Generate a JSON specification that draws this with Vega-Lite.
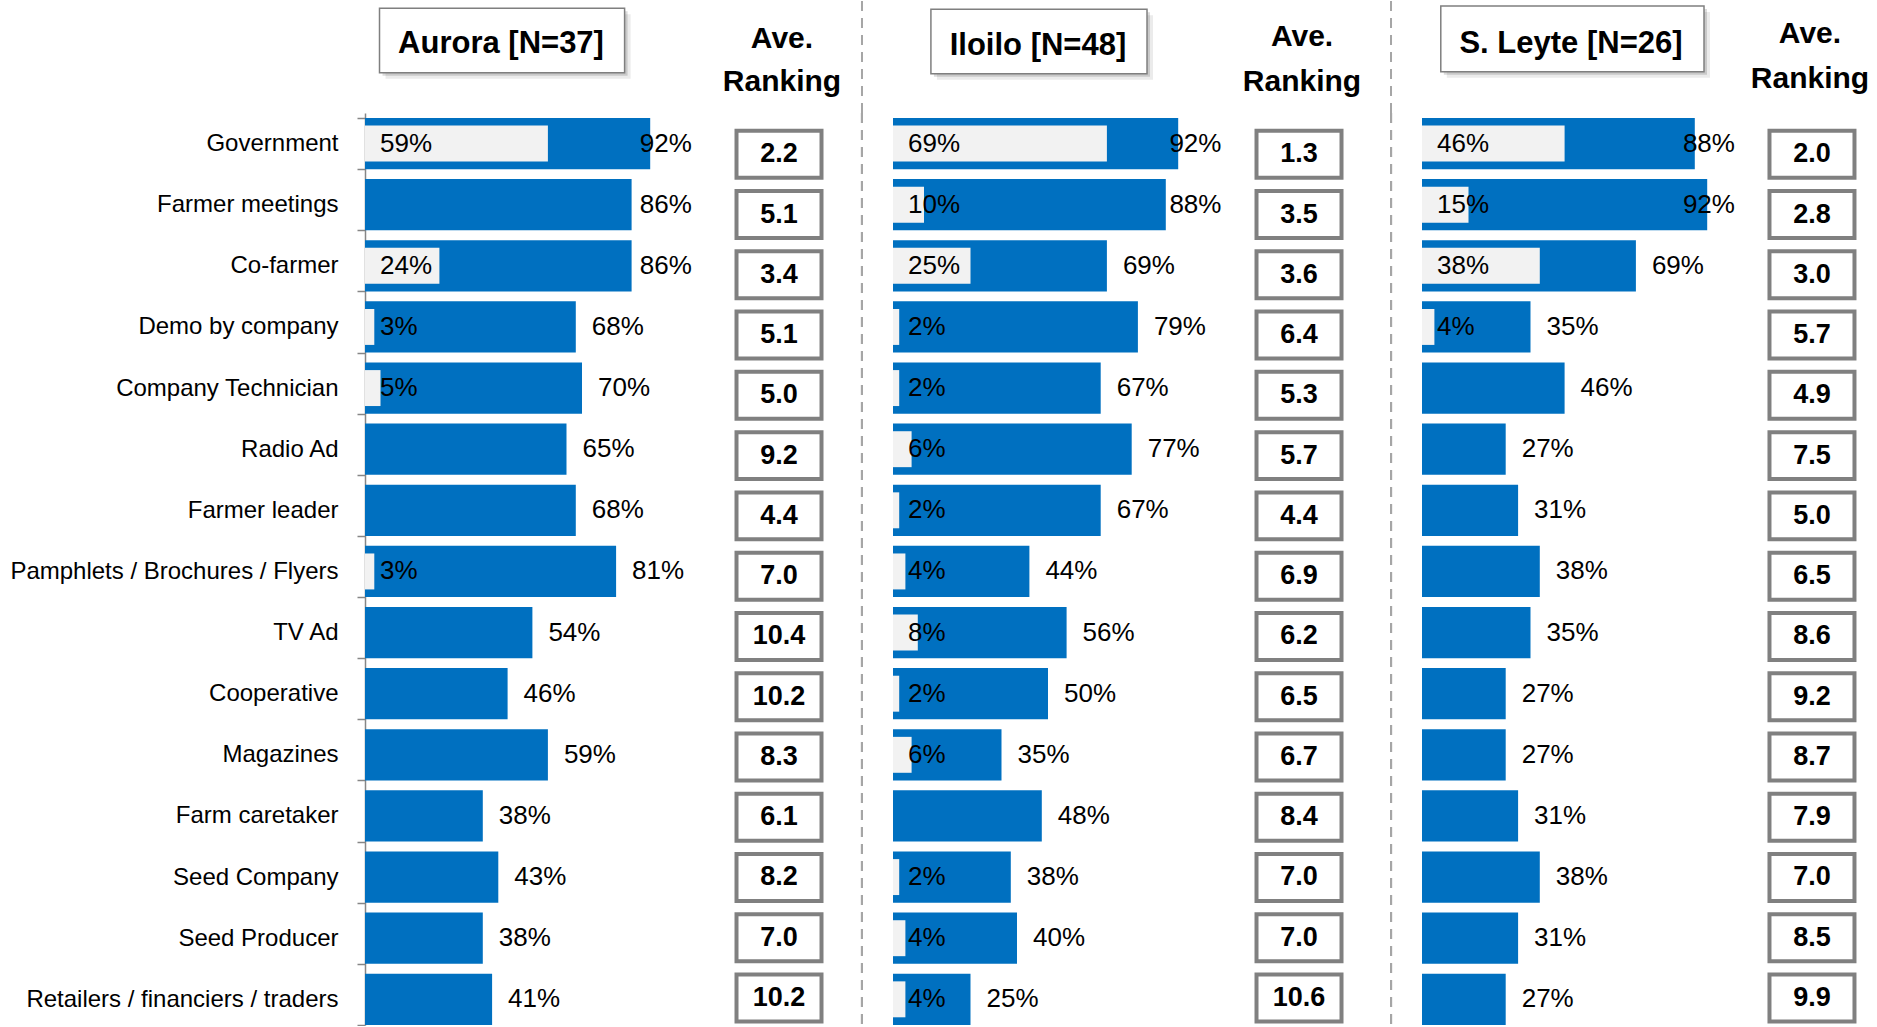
{
  "$schema": "https://vega.github.io/schema/vega-lite/v6.json",
  "padding": {"left": 9, "top": 0, "right": 0, "bottom": 0},
  "autosize": {"type": "pad"},
  "config": {
    "view": {"stroke": null},
    "text": {"font": "Liberation Sans, Arial, sans-serif", "color": "#000000"},
    "axis": {"labelFont": "Liberation Sans, Arial, sans-serif"}
  },
  "datasets": {
    "headers": [
      {"region": "Aurora", "title": "Aurora [N=37]"},
      {"region": "Iloilo", "title": "Iloilo [N=48]"},
      {"region": "S. Leyte", "title": "S. Leyte [N=26]"}
    ],
    "main": [
      {"region": "Aurora", "source": "Government", "total": 0.92, "first": 0.59, "rank": 2.2},
      {"region": "Aurora", "source": "Farmer meetings", "total": 0.86, "first": null, "rank": 5.1},
      {"region": "Aurora", "source": "Co-farmer", "total": 0.86, "first": 0.24, "rank": 3.4},
      {"region": "Aurora", "source": "Demo by company", "total": 0.68, "first": 0.03, "rank": 5.1},
      {"region": "Aurora", "source": "Company Technician", "total": 0.70, "first": 0.05, "rank": 5.0},
      {"region": "Aurora", "source": "Radio Ad", "total": 0.65, "first": null, "rank": 9.2},
      {"region": "Aurora", "source": "Farmer leader", "total": 0.68, "first": null, "rank": 4.4},
      {"region": "Aurora", "source": "Pamphlets / Brochures / Flyers", "total": 0.81, "first": 0.03, "rank": 7.0},
      {"region": "Aurora", "source": "TV Ad", "total": 0.54, "first": null, "rank": 10.4},
      {"region": "Aurora", "source": "Cooperative", "total": 0.46, "first": null, "rank": 10.2},
      {"region": "Aurora", "source": "Magazines", "total": 0.59, "first": null, "rank": 8.3},
      {"region": "Aurora", "source": "Farm caretaker", "total": 0.38, "first": null, "rank": 6.1},
      {"region": "Aurora", "source": "Seed Company", "total": 0.43, "first": null, "rank": 8.2},
      {"region": "Aurora", "source": "Seed Producer", "total": 0.38, "first": null, "rank": 7.0},
      {"region": "Aurora", "source": "Retailers / financiers / traders", "total": 0.41, "first": null, "rank": 10.2},
      {"region": "Iloilo", "source": "Government", "total": 0.92, "first": 0.69, "rank": 1.3},
      {"region": "Iloilo", "source": "Farmer meetings", "total": 0.88, "first": 0.10, "rank": 3.5},
      {"region": "Iloilo", "source": "Co-farmer", "total": 0.69, "first": 0.25, "rank": 3.6},
      {"region": "Iloilo", "source": "Demo by company", "total": 0.79, "first": 0.02, "rank": 6.4},
      {"region": "Iloilo", "source": "Company Technician", "total": 0.67, "first": 0.02, "rank": 5.3},
      {"region": "Iloilo", "source": "Radio Ad", "total": 0.77, "first": 0.06, "rank": 5.7},
      {"region": "Iloilo", "source": "Farmer leader", "total": 0.67, "first": 0.02, "rank": 4.4},
      {"region": "Iloilo", "source": "Pamphlets / Brochures / Flyers", "total": 0.44, "first": 0.04, "rank": 6.9},
      {"region": "Iloilo", "source": "TV Ad", "total": 0.56, "first": 0.08, "rank": 6.2},
      {"region": "Iloilo", "source": "Cooperative", "total": 0.50, "first": 0.02, "rank": 6.5},
      {"region": "Iloilo", "source": "Magazines", "total": 0.35, "first": 0.06, "rank": 6.7},
      {"region": "Iloilo", "source": "Farm caretaker", "total": 0.48, "first": null, "rank": 8.4},
      {"region": "Iloilo", "source": "Seed Company", "total": 0.38, "first": 0.02, "rank": 7.0},
      {"region": "Iloilo", "source": "Seed Producer", "total": 0.40, "first": 0.04, "rank": 7.0},
      {"region": "Iloilo", "source": "Retailers / financiers / traders", "total": 0.25, "first": 0.04, "rank": 10.6},
      {"region": "S. Leyte", "source": "Government", "total": 0.88, "first": 0.46, "rank": 2.0},
      {"region": "S. Leyte", "source": "Farmer meetings", "total": 0.92, "first": 0.15, "rank": 2.8},
      {"region": "S. Leyte", "source": "Co-farmer", "total": 0.69, "first": 0.38, "rank": 3.0},
      {"region": "S. Leyte", "source": "Demo by company", "total": 0.35, "first": 0.04, "rank": 5.7},
      {"region": "S. Leyte", "source": "Company Technician", "total": 0.46, "first": null, "rank": 4.9},
      {"region": "S. Leyte", "source": "Radio Ad", "total": 0.27, "first": null, "rank": 7.5},
      {"region": "S. Leyte", "source": "Farmer leader", "total": 0.31, "first": null, "rank": 5.0},
      {"region": "S. Leyte", "source": "Pamphlets / Brochures / Flyers", "total": 0.38, "first": null, "rank": 6.5},
      {"region": "S. Leyte", "source": "TV Ad", "total": 0.35, "first": null, "rank": 8.6},
      {"region": "S. Leyte", "source": "Cooperative", "total": 0.27, "first": null, "rank": 9.2},
      {"region": "S. Leyte", "source": "Magazines", "total": 0.27, "first": null, "rank": 8.7},
      {"region": "S. Leyte", "source": "Farm caretaker", "total": 0.31, "first": null, "rank": 7.9},
      {"region": "S. Leyte", "source": "Seed Company", "total": 0.38, "first": null, "rank": 7.0},
      {"region": "S. Leyte", "source": "Seed Producer", "total": 0.31, "first": null, "rank": 8.5},
      {"region": "S. Leyte", "source": "Retailers / financiers / traders", "total": 0.27, "first": null, "rank": 9.9}
    ]
  },
  "bounds": "flush",
  "columns": 3,
  "spacing": {"row": 0, "column": 0},
  "concat": [
    {
      "width": 528, "height": 112,
      "data": {"name": "headers"},
      "transform": [{"filter": "datum.region === 'Aurora'"}],
      "layer": [
        {"mark": {"type": "rect", "fill": "#000000", "opacity": 0.08},
         "encoding": {"x": {"datum": 0.0662, "type": "quantitative", "scale": {"domain": [0, 1.703226], "nice": false, "zero": false}, "axis": null}, "x2": {"datum": 0.8568},
                      "y": {"datum": 13.3, "type": "quantitative", "scale": {"domain": [0, 112], "reverse": true, "nice": false, "zero": false}, "axis": null}, "y2": {"datum": 77.7}}},
        {"mark": {"type": "rect", "fill": "#000000", "opacity": 0.14},
         "encoding": {"x": {"datum": 0.0565, "type": "quantitative"}, "x2": {"datum": 0.8471}, "y": {"datum": 10.3, "type": "quantitative"}, "y2": {"datum": 74.7}}},
        {"mark": {"type": "rect", "fill": "#ffffff", "stroke": "#7f7f7f", "strokeWidth": 1.5},
         "encoding": {"x": {"datum": 0.0468, "type": "quantitative"}, "x2": {"datum": 0.8374}, "y": {"datum": 7.3, "type": "quantitative"}, "y2": {"datum": 71.7}}},
        {"mark": {"type": "text", "fontWeight": "bold", "fontSize": 31, "align": "center", "baseline": "alphabetic"},
         "encoding": {"x": {"datum": 0.4387, "type": "quantitative"}, "y": {"datum": 52, "type": "quantitative"}, "text": {"field": "title"}}},
        {"mark": {"type": "text", "text": "Ave.", "fontWeight": "bold", "fontSize": 30, "align": "center", "baseline": "alphabetic"},
         "encoding": {"x": {"datum": 1.345, "type": "quantitative"}, "y": {"datum": 46.7, "type": "quantitative"}}},
        {"mark": {"type": "text", "text": "Ranking", "fontWeight": "bold", "fontSize": 30, "align": "center", "baseline": "alphabetic"},
         "encoding": {"x": {"datum": 1.345, "type": "quantitative"}, "y": {"datum": 90, "type": "quantitative"}}},
        {"mark": {"type": "rule", "color": "#A6A6A6", "strokeWidth": 2, "strokeDash": [10, 7]},
         "encoding": {"x": {"datum": 1.6032, "type": "quantitative"}}}
      ]
    },
    {
      "width": 529, "height": 112,
      "data": {"name": "headers"},
      "transform": [{"filter": "datum.region === 'Iloilo'"}],
      "layer": [
        {"mark": {"type": "rect", "fill": "#000000", "opacity": 0.08},
         "encoding": {"x": {"datum": 0.1417, "type": "quantitative", "scale": {"domain": [0, 1.706452], "nice": false, "zero": false}, "axis": null}, "x2": {"datum": 0.8388},
                      "y": {"datum": 14.3, "type": "quantitative", "scale": {"domain": [0, 112], "reverse": true, "nice": false, "zero": false}, "axis": null}, "y2": {"datum": 78.7}}},
        {"mark": {"type": "rect", "fill": "#000000", "opacity": 0.14},
         "encoding": {"x": {"datum": 0.1320, "type": "quantitative"}, "x2": {"datum": 0.8291}, "y": {"datum": 11.3, "type": "quantitative"}, "y2": {"datum": 75.7}}},
        {"mark": {"type": "rect", "fill": "#ffffff", "stroke": "#7f7f7f", "strokeWidth": 1.5},
         "encoding": {"x": {"datum": 0.1223, "type": "quantitative"}, "x2": {"datum": 0.8194}, "y": {"datum": 8.3, "type": "quantitative"}, "y2": {"datum": 72.7}}},
        {"mark": {"type": "text", "fontWeight": "bold", "fontSize": 31, "align": "center", "baseline": "alphabetic"},
         "encoding": {"x": {"datum": 0.4677, "type": "quantitative"}, "y": {"datum": 54, "type": "quantitative"}, "text": {"field": "title"}}},
        {"mark": {"type": "text", "text": "Ave.", "fontWeight": "bold", "fontSize": 30, "align": "center", "baseline": "alphabetic"},
         "encoding": {"x": {"datum": 1.3194, "type": "quantitative"}, "y": {"datum": 45, "type": "quantitative"}}},
        {"mark": {"type": "text", "text": "Ranking", "fontWeight": "bold", "fontSize": 30, "align": "center", "baseline": "alphabetic"},
         "encoding": {"x": {"datum": 1.3194, "type": "quantitative"}, "y": {"datum": 90, "type": "quantitative"}}},
        {"mark": {"type": "rule", "color": "#A6A6A6", "strokeWidth": 2, "strokeDash": [10, 7]},
         "encoding": {"x": {"datum": 1.6065, "type": "quantitative"}}}
      ]
    },
    {
      "width": 450, "height": 112,
      "data": {"name": "headers"},
      "transform": [{"filter": "datum.region === 'S. Leyte'"}],
      "layer": [
        {"mark": {"type": "rect", "fill": "#000000", "opacity": 0.08},
         "encoding": {"x": {"datum": 0.0800, "type": "quantitative", "scale": {"domain": [0, 1.451613], "nice": false, "zero": false}, "axis": null}, "x2": {"datum": 0.9291},
                      "y": {"datum": 11, "type": "quantitative", "scale": {"domain": [0, 112], "reverse": true, "nice": false, "zero": false}, "axis": null}, "y2": {"datum": 76.7}}},
        {"mark": {"type": "rect", "fill": "#000000", "opacity": 0.14},
         "encoding": {"x": {"datum": 0.0703, "type": "quantitative"}, "x2": {"datum": 0.9194}, "y": {"datum": 8, "type": "quantitative"}, "y2": {"datum": 73.7}}},
        {"mark": {"type": "rect", "fill": "#ffffff", "stroke": "#7f7f7f", "strokeWidth": 1.5},
         "encoding": {"x": {"datum": 0.0606, "type": "quantitative"}, "x2": {"datum": 0.9097}, "y": {"datum": 5, "type": "quantitative"}, "y2": {"datum": 70.7}}},
        {"mark": {"type": "text", "fontWeight": "bold", "fontSize": 31, "align": "center", "baseline": "alphabetic"},
         "encoding": {"x": {"datum": 0.4806, "type": "quantitative"}, "y": {"datum": 52.3, "type": "quantitative"}, "text": {"field": "title"}}},
        {"mark": {"type": "text", "text": "Ave.", "fontWeight": "bold", "fontSize": 30, "align": "center", "baseline": "alphabetic"},
         "encoding": {"x": {"datum": 1.2516, "type": "quantitative"}, "y": {"datum": 41.7, "type": "quantitative"}}},
        {"mark": {"type": "text", "text": "Ranking", "fontWeight": "bold", "fontSize": 30, "align": "center", "baseline": "alphabetic"},
         "encoding": {"x": {"datum": 1.2516, "type": "quantitative"}, "y": {"datum": 86.7, "type": "quantitative"}}}
      ]
    },
    {
      "width": 528, "height": 912,
      "data": {"name": "main"},
      "transform": [{"filter": "datum.region === 'Aurora'"}],
      "layer": [
        {
          "encoding": {
            "y": {"field": "source", "type": "nominal",
                  "scale": {"type": "band", "domain": ["Government", "Farmer meetings", "Co-farmer", "Demo by company", "Company Technician", "Radio Ad", "Farmer leader", "Pamphlets / Brochures / Flyers", "TV Ad", "Cooperative", "Magazines", "Farm caretaker", "Seed Company", "Seed Producer", "Retailers / financiers / traders"], "paddingInner": 0.16, "paddingOuter": 0.04, "align": 1},
                  "axis": {"title": null, "domainColor": "#868686", "domainWidth": 1.5, "tickColor": "#868686", "tickWidth": 1.5, "tickSize": 8, "tickBand": "extent", "labelFontSize": 24, "labelColor": "#000000", "labelPadding": 19, "labelLimit": 600}}
          },
          "layer": [
            {"mark": {"type": "bar", "fill": "#0070C0"},
             "encoding": {"x": {"field": "total", "type": "quantitative", "scale": {"domain": [0, 1.703226], "nice": false, "zero": true}, "axis": null}}},
            {"transform": [{"filter": "datum.first != null"}],
             "mark": {"type": "bar", "fill": "#F2F2F2", "height": {"band": 0.7}},
             "encoding": {"x": {"field": "first", "type": "quantitative"}}},
            {"transform": [{"filter": "datum.first != null"}],
             "mark": {"type": "text", "align": "left", "baseline": "middle", "dx": 15, "fontSize": 26},
             "encoding": {"x": {"datum": 0, "type": "quantitative"}, "text": {"field": "first", "type": "quantitative", "format": ".0%"}}}
          ]
        },
        {
          "mark": {"type": "text", "align": "left", "baseline": "middle", "dx": 16, "fontSize": 26},
          "encoding": {
            "y": {"field": "source", "type": "nominal", "axis": null,
                  "scale": {"type": "band", "domain": ["Government", "Farmer meetings", "Co-farmer", "Demo by company", "Company Technician", "Radio Ad", "Farmer leader", "Pamphlets / Brochures / Flyers", "TV Ad", "Cooperative", "Magazines", "Farm caretaker", "Seed Company", "Seed Producer", "Retailers / financiers / traders"], "paddingInner": 0.16, "paddingOuter": 0.04, "align": 1}},
            "x": {"field": "total", "type": "quantitative", "axis": null, "scale": {"domain": [0, 0.835], "range": [0, 258.85], "clamp": true, "nice": false, "zero": true}},
            "text": {"field": "total", "type": "quantitative", "format": ".0%"}
          }
        },
        {
          "encoding": {
            "y": {"field": "source", "type": "nominal", "axis": null,
                  "scale": {"type": "band", "domain": ["Government", "Farmer meetings", "Co-farmer", "Demo by company", "Company Technician", "Radio Ad", "Farmer leader", "Pamphlets / Brochures / Flyers", "TV Ad", "Cooperative", "Magazines", "Farm caretaker", "Seed Company", "Seed Producer", "Retailers / financiers / traders"], "paddingInner": 0.16, "paddingOuter": 0.147, "align": 0.903}}
          },
          "layer": [
            {"mark": {"type": "bar", "fill": "#ffffff", "stroke": "#808080", "strokeWidth": 4, "height": {"band": 0.928}},
             "encoding": {"x": {"datum": 1.1984, "type": "quantitative", "scale": {"domain": [0, 1.703226], "nice": false, "zero": true}, "axis": null}, "x2": {"datum": 1.4726}}},
            {"mark": {"type": "text", "fontWeight": "bold", "fontSize": 27, "align": "center", "baseline": "middle"},
             "encoding": {"x": {"datum": 1.3355, "type": "quantitative"}, "text": {"field": "rank", "type": "quantitative", "format": ".1f"}}}
          ]
        },
        {
          "mark": {"type": "rule", "color": "#A6A6A6", "strokeWidth": 2, "strokeDash": [10, 7]},
          "encoding": {"x": {"datum": 1.6032, "type": "quantitative", "scale": {"domain": [0, 1.703226], "nice": false, "zero": true}, "axis": null}}
        }
      ],
      "resolve": {"scale": {"x": "independent", "y": "independent"}}
    },
    {
      "width": 529, "height": 912,
      "data": {"name": "main"},
      "transform": [{"filter": "datum.region === 'Iloilo'"}],
      "layer": [
        {
          "encoding": {
            "y": {"field": "source", "type": "nominal", "axis": null,
                  "scale": {"type": "band", "domain": ["Government", "Farmer meetings", "Co-farmer", "Demo by company", "Company Technician", "Radio Ad", "Farmer leader", "Pamphlets / Brochures / Flyers", "TV Ad", "Cooperative", "Magazines", "Farm caretaker", "Seed Company", "Seed Producer", "Retailers / financiers / traders"], "paddingInner": 0.16, "paddingOuter": 0.04, "align": 1}}
          },
          "layer": [
            {"mark": {"type": "bar", "fill": "#0070C0"},
             "encoding": {"x": {"field": "total", "type": "quantitative", "scale": {"domain": [0, 1.706452], "nice": false, "zero": true}, "axis": null}}},
            {"transform": [{"filter": "datum.first != null"}],
             "mark": {"type": "bar", "fill": "#F2F2F2", "height": {"band": 0.7}},
             "encoding": {"x": {"field": "first", "type": "quantitative"}}},
            {"transform": [{"filter": "datum.first != null"}],
             "mark": {"type": "text", "align": "left", "baseline": "middle", "dx": 15, "fontSize": 26},
             "encoding": {"x": {"datum": 0, "type": "quantitative"}, "text": {"field": "first", "type": "quantitative", "format": ".0%"}}}
          ]
        },
        {
          "mark": {"type": "text", "align": "left", "baseline": "middle", "dx": 16, "fontSize": 26},
          "encoding": {
            "y": {"field": "source", "type": "nominal", "axis": null,
                  "scale": {"type": "band", "domain": ["Government", "Farmer meetings", "Co-farmer", "Demo by company", "Company Technician", "Radio Ad", "Farmer leader", "Pamphlets / Brochures / Flyers", "TV Ad", "Cooperative", "Magazines", "Farm caretaker", "Seed Company", "Seed Producer", "Retailers / financiers / traders"], "paddingInner": 0.16, "paddingOuter": 0.04, "align": 1}},
            "x": {"field": "total", "type": "quantitative", "axis": null, "scale": {"domain": [0, 0.84], "range": [0, 260.4], "clamp": true, "nice": false, "zero": true}},
            "text": {"field": "total", "type": "quantitative", "format": ".0%"}
          }
        },
        {
          "encoding": {
            "y": {"field": "source", "type": "nominal", "axis": null,
                  "scale": {"type": "band", "domain": ["Government", "Farmer meetings", "Co-farmer", "Demo by company", "Company Technician", "Radio Ad", "Farmer leader", "Pamphlets / Brochures / Flyers", "TV Ad", "Cooperative", "Magazines", "Farm caretaker", "Seed Company", "Seed Producer", "Retailers / financiers / traders"], "paddingInner": 0.16, "paddingOuter": 0.147, "align": 0.903}}
          },
          "layer": [
            {"mark": {"type": "bar", "fill": "#ffffff", "stroke": "#808080", "strokeWidth": 4, "height": {"band": 0.928}},
             "encoding": {"x": {"datum": 1.1726, "type": "quantitative", "scale": {"domain": [0, 1.706452], "nice": false, "zero": true}, "axis": null}, "x2": {"datum": 1.4468}}},
            {"mark": {"type": "text", "fontWeight": "bold", "fontSize": 27, "align": "center", "baseline": "middle"},
             "encoding": {"x": {"datum": 1.3097, "type": "quantitative"}, "text": {"field": "rank", "type": "quantitative", "format": ".1f"}}}
          ]
        },
        {
          "mark": {"type": "rule", "color": "#A6A6A6", "strokeWidth": 2, "strokeDash": [10, 7]},
          "encoding": {"x": {"datum": 1.6065, "type": "quantitative", "scale": {"domain": [0, 1.706452], "nice": false, "zero": true}, "axis": null}}
        }
      ],
      "resolve": {"scale": {"x": "independent", "y": "independent"}}
    },
    {
      "width": 450, "height": 912,
      "data": {"name": "main"},
      "transform": [{"filter": "datum.region === 'S. Leyte'"}],
      "layer": [
        {
          "encoding": {
            "y": {"field": "source", "type": "nominal", "axis": null,
                  "scale": {"type": "band", "domain": ["Government", "Farmer meetings", "Co-farmer", "Demo by company", "Company Technician", "Radio Ad", "Farmer leader", "Pamphlets / Brochures / Flyers", "TV Ad", "Cooperative", "Magazines", "Farm caretaker", "Seed Company", "Seed Producer", "Retailers / financiers / traders"], "paddingInner": 0.16, "paddingOuter": 0.04, "align": 1}}
          },
          "layer": [
            {"mark": {"type": "bar", "fill": "#0070C0"},
             "encoding": {"x": {"field": "total", "type": "quantitative", "scale": {"domain": [0, 1.451613], "nice": false, "zero": true}, "axis": null}}},
            {"transform": [{"filter": "datum.first != null"}],
             "mark": {"type": "bar", "fill": "#F2F2F2", "height": {"band": 0.7}},
             "encoding": {"x": {"field": "first", "type": "quantitative"}}},
            {"transform": [{"filter": "datum.first != null"}],
             "mark": {"type": "text", "align": "left", "baseline": "middle", "dx": 15, "fontSize": 26},
             "encoding": {"x": {"datum": 0, "type": "quantitative"}, "text": {"field": "first", "type": "quantitative", "format": ".0%"}}}
          ]
        },
        {
          "mark": {"type": "text", "align": "left", "baseline": "middle", "dx": 16, "fontSize": 26},
          "encoding": {
            "y": {"field": "source", "type": "nominal", "axis": null,
                  "scale": {"type": "band", "domain": ["Government", "Farmer meetings", "Co-farmer", "Demo by company", "Company Technician", "Radio Ad", "Farmer leader", "Pamphlets / Brochures / Flyers", "TV Ad", "Cooperative", "Magazines", "Farm caretaker", "Seed Company", "Seed Producer", "Retailers / financiers / traders"], "paddingInner": 0.16, "paddingOuter": 0.04, "align": 1}},
            "x": {"field": "total", "type": "quantitative", "axis": null, "scale": {"domain": [0, 0.79], "range": [0, 244.9], "clamp": true, "nice": false, "zero": true}},
            "text": {"field": "total", "type": "quantitative", "format": ".0%"}
          }
        },
        {
          "encoding": {
            "y": {"field": "source", "type": "nominal", "axis": null,
                  "scale": {"type": "band", "domain": ["Government", "Farmer meetings", "Co-farmer", "Demo by company", "Company Technician", "Radio Ad", "Farmer leader", "Pamphlets / Brochures / Flyers", "TV Ad", "Cooperative", "Magazines", "Farm caretaker", "Seed Company", "Seed Producer", "Retailers / financiers / traders"], "paddingInner": 0.16, "paddingOuter": 0.147, "align": 0.903}}
          },
          "layer": [
            {"mark": {"type": "bar", "fill": "#ffffff", "stroke": "#808080", "strokeWidth": 4, "height": {"band": 0.928}},
             "encoding": {"x": {"datum": 1.1209, "type": "quantitative", "scale": {"domain": [0, 1.451613], "nice": false, "zero": true}, "axis": null}, "x2": {"datum": 1.3951}}},
            {"mark": {"type": "text", "fontWeight": "bold", "fontSize": 27, "align": "center", "baseline": "middle"},
             "encoding": {"x": {"datum": 1.258, "type": "quantitative"}, "text": {"field": "rank", "type": "quantitative", "format": ".1f"}}}
          ]
        }
      ],
      "resolve": {"scale": {"x": "independent", "y": "independent"}}
    }
  ]
}
